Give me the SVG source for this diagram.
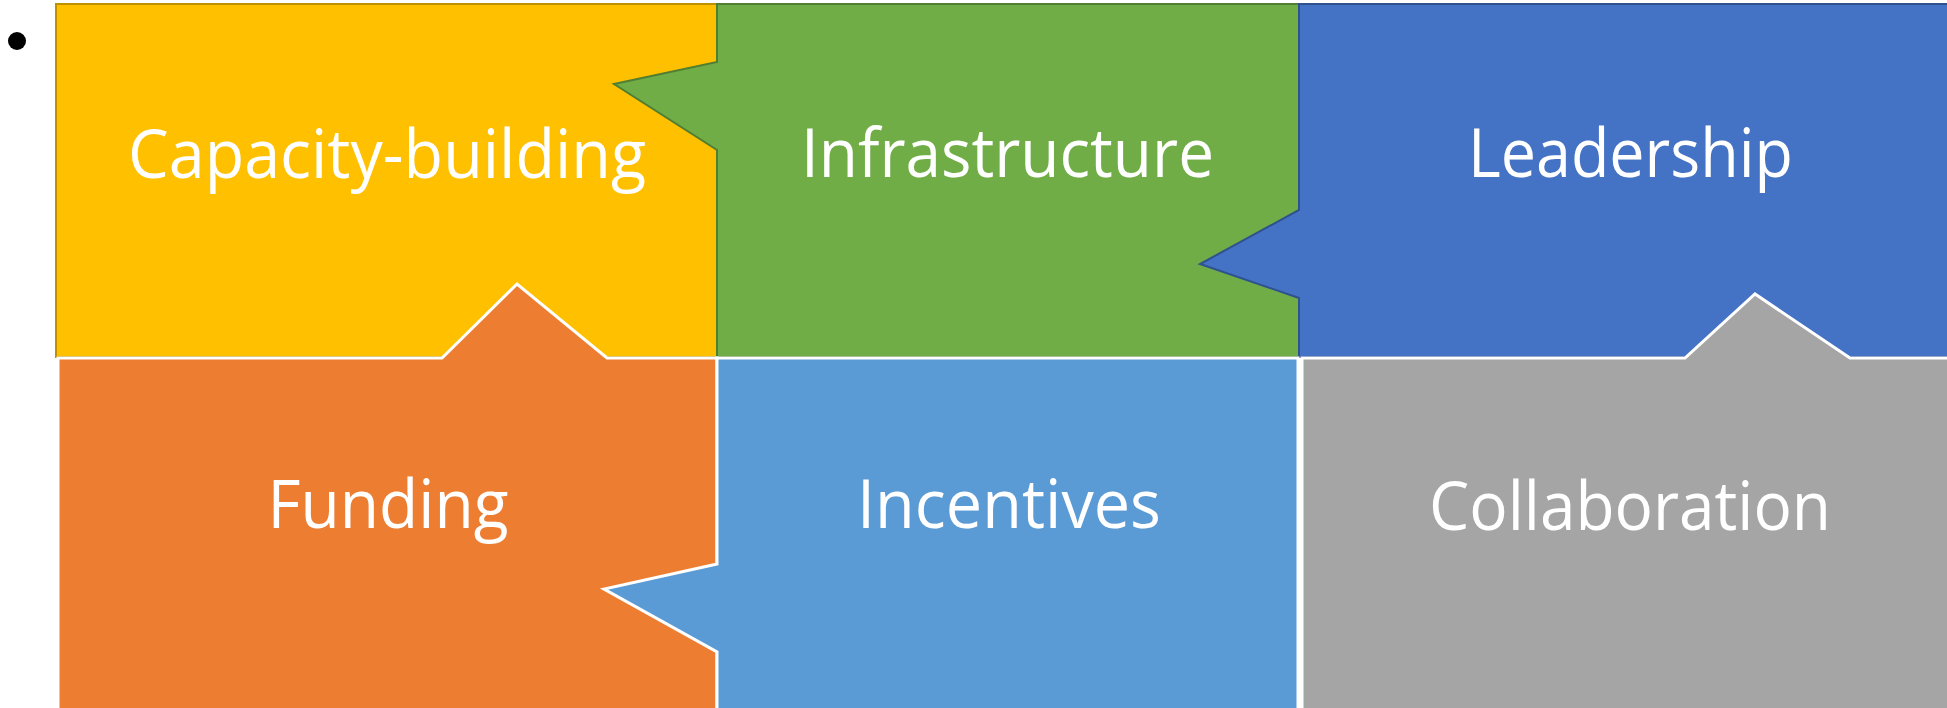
<svg xmlns="http://www.w3.org/2000/svg" width="1947" height="708" viewBox="0 0 1947 708">
<style>
.lbl{font-family:"Open Sans","Noto Sans","Liberation Sans",sans-serif;font-size:68px;fill:#FFFFFF;text-anchor:middle}
.bot{stroke:#FFFFFF;stroke-width:3;stroke-linejoin:miter}
</style>
<rect width="1947" height="708" fill="#FFFFFF"/>
<circle cx="17" cy="41" r="9" fill="#000000"/>
<g id="capacity-building">
<rect x="56" y="4" width="661" height="353" fill="#FFC000" stroke="#BF9000" stroke-width="2"/>
<text class="lbl" x="387" y="178" textLength="518" lengthAdjust="spacingAndGlyphs">Capacity-building</text>
</g>
<g id="infrastructure">
<polygon points="717,4 1299,4 1299,357 717,357 717,150 614,84 717,62" fill="#70AD47" stroke="#507E32" stroke-width="2"/>
<text class="lbl" x="1007.5" y="177" textLength="413" lengthAdjust="spacingAndGlyphs">Infrastructure</text>
</g>
<g id="leadership">
<polygon points="1299,4 1952,4 1952,357 1299,357 1299,298 1200,264 1299,210" fill="#4472C4" stroke="#2F528F" stroke-width="2"/>
<text class="lbl" x="1630.5" y="177" textLength="325" lengthAdjust="spacingAndGlyphs">Leadership</text>
</g>
<g id="funding">
<polygon class="bot" points="58,358 442,358 517,284 607,358 717,358 717,712 58,712" fill="#ED7D31"/>
<text class="lbl" x="388" y="528" textLength="241" lengthAdjust="spacingAndGlyphs">Funding</text>
</g>
<g id="incentives">
<polygon class="bot" points="717,358 1298,358 1298,712 717,712 717,652 604,589 717,564" fill="#5B9BD5"/>
<text class="lbl" x="1009" y="528" textLength="304" lengthAdjust="spacingAndGlyphs">Incentives</text>
</g>
<g id="collaboration">
<polygon class="bot" points="1302,358 1685,358 1755,294 1850,358 1952,358 1952,712 1302,712" fill="#A5A5A5"/>
<text class="lbl" x="1630" y="530" textLength="402" lengthAdjust="spacingAndGlyphs">Collaboration</text>
</g>
<g id="connectors"></g>
</svg>
